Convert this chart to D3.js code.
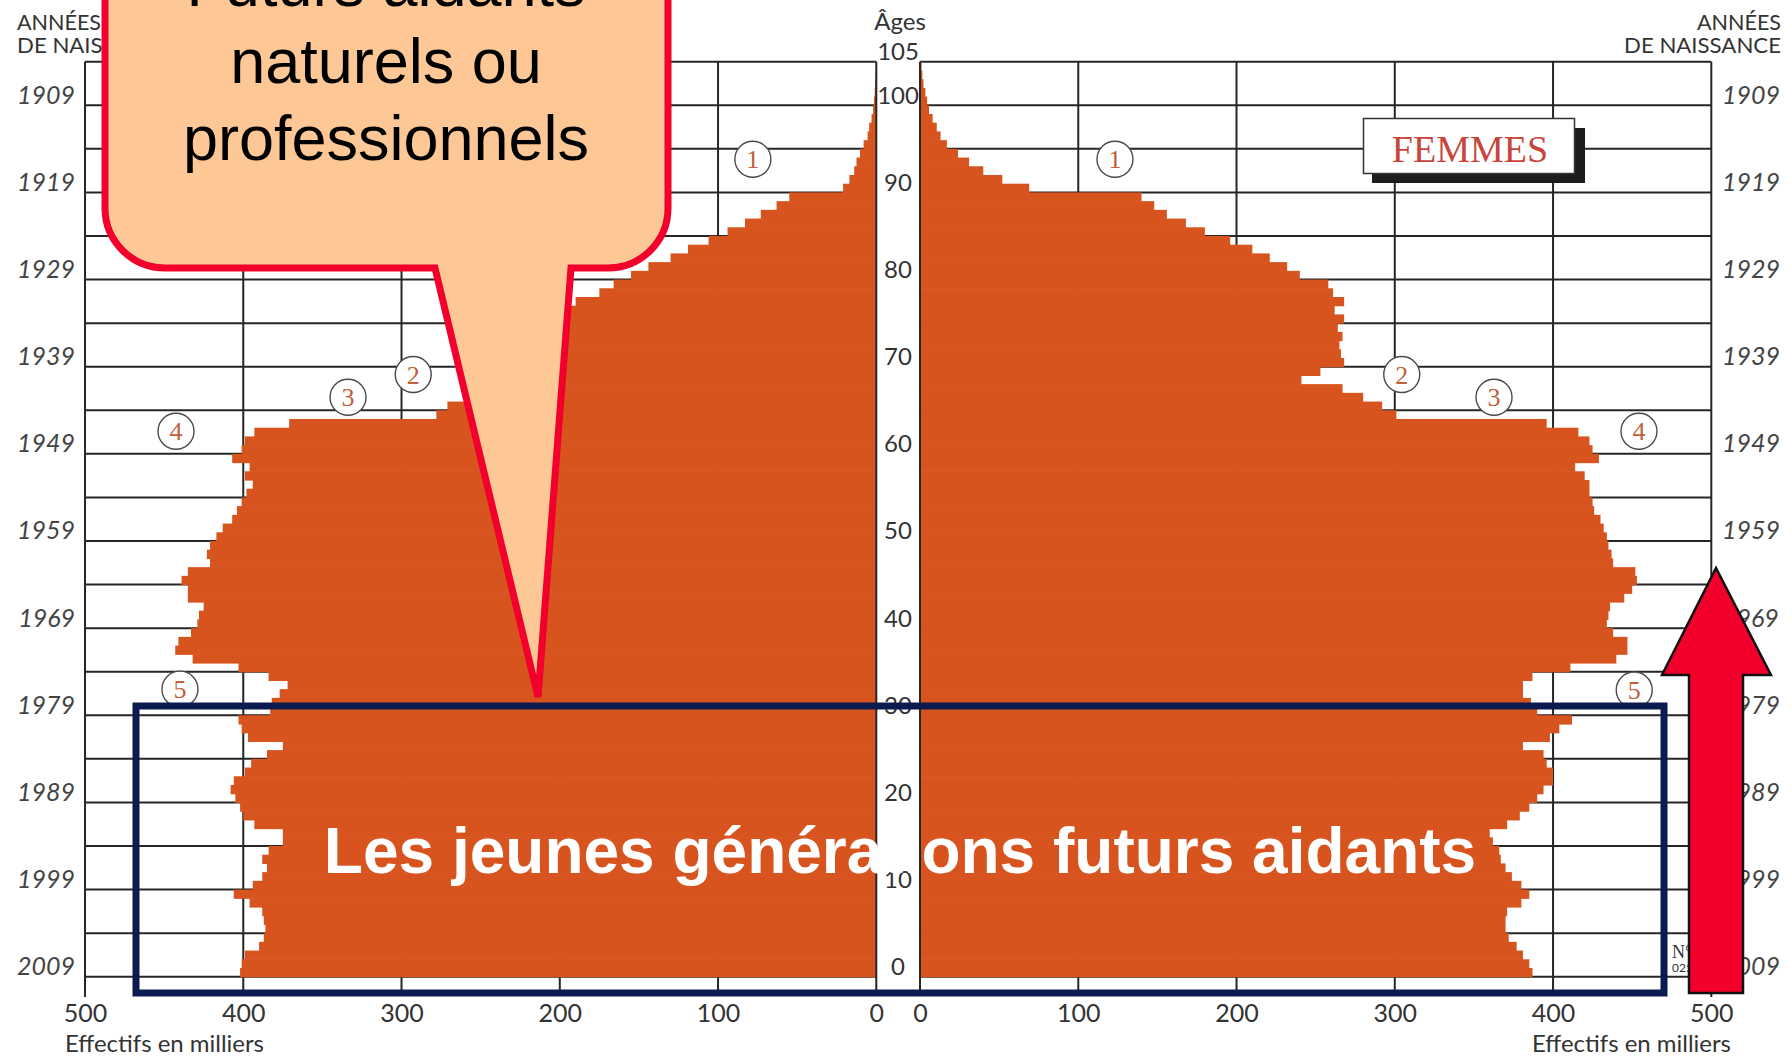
<!DOCTYPE html>
<html><head><meta charset="utf-8">
<script src="https://cdn.jsdelivr.net/npm/d3@7/dist/d3.min.js"></script>
<style>
html,body{margin:0;padding:0;background:#fff;overflow:hidden;}
svg{display:block;}
</style></head><body>
<svg id="c" width="1792" height="1062"></svg>
<script>
// ---------- DATA (France, 1er janvier 2010, effectifs en milliers) ----------
// index = âge révolu (0 .. 104)
const ages = d3.range(0, 105);
const hommes = [
 402,401,399,390,387,386,387,388,396,406,
 394,388,385,388,384,375,375,393,400,402,
 405,408,406,399,395,385,375,397,401,403,
 383,382,377,372,384,403,432,443,441,433,
 429,428,425,435,435,439,435,421,423,421,
 417,413,407,404,401,398,394,399,396,407,
 401,399,393,371,278,271,255,245,222,210,
 225,225,222,220,215,210,203,190,175,166,
 155,144,130,119,106,94,83,73,63,55,
 21,17,14,12.5,10.3,8,5.5,4.5,3,2,
 1.5,1,0.7,0.4,0.2
];
const femmes = [
 387,385,381,377,372,370,370,371,380,385,
 380,374,370,367,366,362,360,371,379,385,
 390,394,400,400,396,394,381,398,404,412,
 390,386,381,381,387,411,440,447,447,438,
 434,435,436,445,450,453,452,438,437,435,
 434,432,430,426,425,423,423,420,414,429,
 425,423,416,396,301,292,280,267,241,253,
 268,266,265,267,264,268,262,268,261,258,
 240,232,221,210,196,180,168,156,148,140,
 69,52,40,31,24,17,13,10.6,8,5.7,
 4.5,3.4,2.2,1.5,1
];
const xTicks = [0,100,200,300,400,500];
const gridAges = [0,5,10,15,20,25,30,35,40,45,50,55,60,65,70,75,80,85,90,95,100,105];
const ageLabels = [0,10,20,30,40,50,60,70,80,90,100,105];
const yearAges = [0,10,20,30,40,50,60,70,80,90,100];
const yearLabels = ["2009","1999","1989","1979","1969","1959","1949","1939","1929","1919","1909"];
const noteNums = ["1","2","3","4","5"];
const notesH = [[78,93.8],[292.6,69.1],[333.8,66.5],[442.5,62.6],[440,33.0]];
const notesF = [[123.2,93.8],[304.4,69.1],[362.7,66.5],[454.3,62.6],[451.3,32.9]];

// ---------- SCALES ----------
const y  = d3.scaleLinear().domain([0,105]).range([976.7, 61.7]);
const xL = d3.scaleLinear().domain([0,500]).range([876.3, 85]);
const xR = d3.scaleLinear().domain([0,500]).range([920, 1711.3]);

const svg = d3.select("#c");
const FONT = "Lato, 'Open Sans', 'DejaVu Sans', sans-serif";
const GRID = "#262626";
const BAR = "#D8541F";

// ---------- GRID ----------
const grid = svg.append("g").attr("stroke", GRID).attr("stroke-width", 2);
[xL, xR].forEach(sc => {
  grid.selectAll(null).data(gridAges).join("line")
    .attr("x1", sc(0)).attr("x2", sc(500))
    .attr("y1", d => y(d)).attr("y2", d => y(d));
  grid.selectAll(null).data(xTicks.filter(d => d > 0)).join("line")
    .attr("x1", d => sc(d)).attr("x2", d => sc(d))
    .attr("y1", y(105)).attr("y2", d => d === 500 ? 997 : 990);
});

// ---------- BARS ----------
const bars = svg.append("g").attr("fill", BAR);
bars.selectAll(null).data(ages).join("rect")
  .attr("x", a => xL(hommes[a]))
  .attr("width", a => xL(0) - xL(hommes[a]))
  .attr("y", a => y(a + 1))
  .attr("height", a => y(a) - y(a + 1) + 0.6);
bars.selectAll(null).data(ages).join("rect")
  .attr("x", xR(0))
  .attr("width", a => xR(femmes[a]) - xR(0))
  .attr("y", a => y(a + 1))
  .attr("height", a => y(a) - y(a + 1) + 0.6);

// central axis lines
svg.append("g").attr("stroke", GRID).attr("stroke-width", 2)
  .selectAll(null).data([xL(0), xR(0)]).join("line")
  .attr("x1", d => d).attr("x2", d => d).attr("y1", y(105)).attr("y2", 990);

// ---------- AXES / LABELS ----------
function styleAxis(g) {
  g.select(".domain").remove();
  g.selectAll(".tick line").remove();
  g.selectAll("text").attr("font-family", FONT).attr("fill", "#333");
}
// bottom value labels
[xL, xR].forEach(sc => {
  const ax = svg.append("g").attr("transform", "translate(0,1022)")
    .call(d3.axisBottom(sc).tickValues(xTicks).tickSize(0).tickPadding(0).tickFormat(d3.format("d")));
  styleAxis(ax);
  ax.selectAll("text").attr("y", 0).attr("dy", 0).attr("font-size", 25);
});
// central ages
const axAge = svg.append("g").attr("transform", "translate(898,0)")
  .call(d3.axisRight(y).tickValues(ageLabels).tickSize(0).tickPadding(0).tickFormat(d3.format("d")));
styleAxis(axAge);
axAge.selectAll("text").attr("x", 0).attr("dy", -2).attr("text-anchor", "middle").attr("font-size", 24);
// birth years left / right
const yearFmt = a => yearLabels[yearAges.indexOf(a)];
const axYL = svg.append("g").attr("transform", "translate(75,0)")
  .call(d3.axisLeft(y).tickValues(yearAges).tickSize(0).tickPadding(0).tickFormat(yearFmt));
styleAxis(axYL);
axYL.selectAll("text").attr("x", 0).attr("dy", -2).attr("font-size", 25).attr("font-style", "italic").attr("fill", "#444");
const axYR = svg.append("g").attr("transform", "translate(1722,0)")
  .call(d3.axisRight(y).tickValues(yearAges).tickSize(0).tickPadding(0).tickFormat(yearFmt));
styleAxis(axYR);
axYR.selectAll("text").attr("x", 0).attr("dy", -2).attr("font-size", 25).attr("font-style", "italic").attr("fill", "#444");

// titles
const txt = (x, yy, s, size, anchor, extra) => {
  const t = svg.append("text").attr("x", x).attr("y", yy).text(s)
    .attr("font-family", FONT).attr("font-size", size).attr("fill", "#333")
    .attr("text-anchor", anchor || "start");
  if (extra) extra(t);
  return t;
};
txt(900, 30, "Âges", 24, "middle");
txt(65, 1052, "Effectifs en milliers", 23, "start", t => t.attr("textLength", 199).attr("lengthAdjust", "spacingAndGlyphs"));
txt(1532, 1052, "Effectifs en milliers", 23, "start", t => t.attr("textLength", 199).attr("lengthAdjust", "spacingAndGlyphs"));
txt(17, 30, "ANNÉES", 21, "start", t => t.attr("textLength", 84).attr("lengthAdjust", "spacingAndGlyphs"));
txt(17, 53, "DE NAISSANCE", 21, "start", t => t.attr("textLength", 157).attr("lengthAdjust", "spacingAndGlyphs"));
txt(1624, 30, "ANNÉES", 21, "start", t => t.attr("x", 1697).attr("textLength", 84).attr("lengthAdjust", "spacingAndGlyphs"));
txt(1624, 53, "DE NAISSANCE", 21, "start", t => t.attr("textLength", 157).attr("lengthAdjust", "spacingAndGlyphs"));

// FEMMES box
svg.append("rect").attr("x", 1372).attr("y", 128).attr("width", 213).attr("height", 55).attr("fill", "#1c1c1c");
svg.append("rect").attr("x", 1363.5).attr("y", 118.5).attr("width", 211).attr("height", 55)
  .attr("fill", "#fff").attr("stroke", "#333").attr("stroke-width", 1.5);
svg.append("text").attr("x", 1470).attr("y", 162).attr("text-anchor", "middle")
  .attr("font-family", "'Liberation Serif', 'DejaVu Serif', serif").attr("font-size", 38)
  .attr("fill", "#C8443C").text("FEMMES");

// circled notes
function notes(list, sc) {
  const g = svg.append("g").selectAll(null).data(list).join("g")
    .attr("transform", d => `translate(${sc(d[0])},${y(d[1])})`);
  g.append("circle").attr("r", 18).attr("fill", "#fff").attr("stroke", "#4a4a4a").attr("stroke-width", 1.4);
  g.append("text").attr("text-anchor", "middle").attr("y", 9)
    .attr("font-family", "'Liberation Serif', 'DejaVu Serif', serif").attr("font-size", 26)
    .attr("fill", "#C0603A").text((d, i) => noteNums[i]);
}
notes(notesH, xL);
notes(notesF, xR);

// source mark (mostly hidden by arrow)
svg.append("text").attr("x", 1672).attr("y", 958).attr("font-family", "'Liberation Serif', serif")
  .attr("font-size", 18).attr("fill", "#333").text("N°");
svg.append("text").attr("x", 1672).attr("y", 972).attr("font-family", FONT)
  .attr("font-size", 12).attr("fill", "#333").text("0250");

// ---------- OVERLAYS ----------
// navy frame
svg.append("rect").attr("x", 136).attr("y", 706).attr("width", 1528).attr("height", 287)
  .attr("fill", "none").attr("stroke", "#0B1B50").attr("stroke-width", 7);
svg.append("text").attr("x", 900).attr("y", 873).attr("text-anchor", "middle")
  .attr("font-family", "'Liberation Sans', Arial, sans-serif").attr("font-weight", "bold")
  .attr("font-size", 64).attr("fill", "#fff").text("Les jeunes générations futurs aidants");

// speech bubble
const bub = d3.path();
bub.moveTo(105, -80);
bub.lineTo(105, 208);
bub.arcTo(105, 268, 165, 268, 60);
bub.lineTo(435, 268);
bub.lineTo(538, 697);
bub.lineTo(571, 268);
bub.lineTo(608, 268);
bub.arcTo(668, 268, 668, 208, 60);
bub.lineTo(668, -80);
bub.closePath();
svg.append("path").attr("d", bub.toString()).attr("fill", "#FDC896")
  .attr("stroke", "#F2002B").attr("stroke-width", 7).attr("stroke-linejoin", "miter");
const bubText = ["Futurs aidants", "naturels ou", "professionnels"];
svg.append("g").selectAll(null).data(bubText).join("text")
  .attr("x", 386).attr("y", (d, i) => 6 + i * 77).attr("text-anchor", "middle")
  .attr("font-family", "'Liberation Sans', Arial, sans-serif").attr("font-size", 63)
  .attr("fill", "#000").text(d => d);

// red arrow
const arr = d3.path();
arr.moveTo(1689, 993); arr.lineTo(1689, 675); arr.lineTo(1662, 675); arr.lineTo(1716, 568);
arr.lineTo(1771, 675); arr.lineTo(1743, 675); arr.lineTo(1743, 993); arr.closePath();
svg.append("path").attr("d", arr.toString()).attr("fill", "#F2002B")
  .attr("stroke", "#111").attr("stroke-width", 2.5);
</script>
</body></html>
